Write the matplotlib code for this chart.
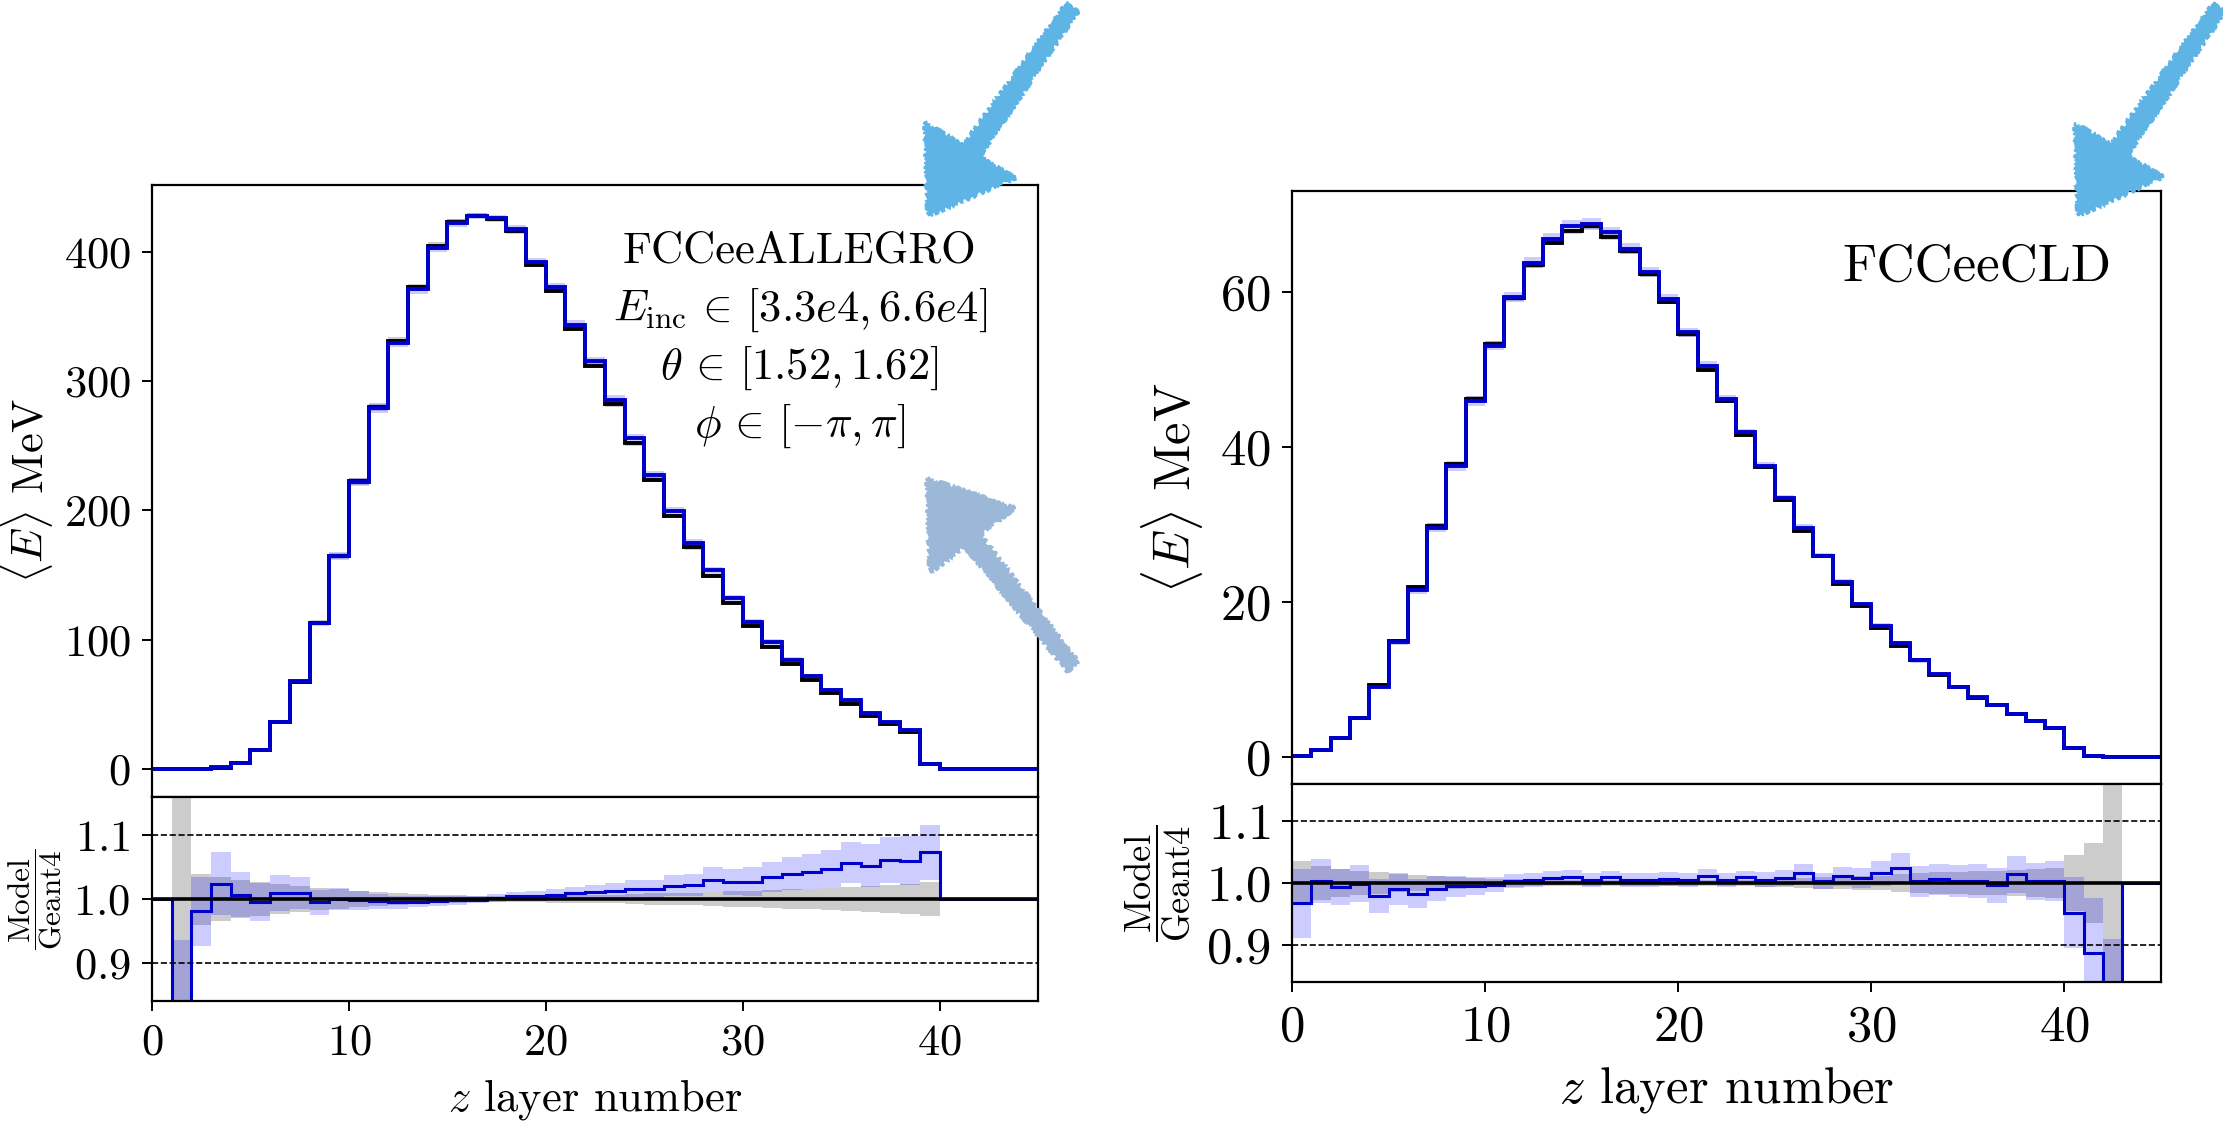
import numpy as np
import matplotlib
matplotlib.use("Agg")
import matplotlib.pyplot as plt
from matplotlib.patches import Polygon

plt.rcParams.update({
    "font.family": "serif",
    "font.serif": ["cmr10"],
    "mathtext.fontset": "cm",
    "axes.formatter.use_mathtext": True,
    "axes.unicode_minus": False,
    "font.size": 32,
    "axes.linewidth": 1.6,
    "xtick.major.size": 7.5,
    "ytick.major.size": 7.5,
    "xtick.major.width": 1.4,
    "ytick.major.width": 1.4,
})

# layer bin edges (45 layers)
edges = np.arange(46)

# ---- FCCeeALLEGRO ----
allegro_g4 = [0.0, 0.12, 0.41, 1.27, 4.97, 15.08, 36.37, 67.59, 113.17, 164.8,
              222.5, 279.8, 331.1, 372.3, 404.2, 422.7, 427.8, 425.0, 415.8, 390.0,
              369.9, 340.4, 311.9, 281.9, 251.8, 223.7, 195.6, 171.4, 149.2, 128.8,
              110.9, 94.8, 81.0, 69.0, 58.5, 50.6, 41.4, 34.6, 28.5, 3.63,
              0.0, 0.0, 0.0, 0.0, 0.0]
allegro_ratio = [1.0, 0.80, 0.981, 1.024, 1.007, 0.995, 1.009, 1.009, 0.995, 1.000,
                 0.998, 0.9965, 0.995, 0.996, 0.997, 0.998, 0.999, 1.002, 1.004, 1.005,
                 1.007, 1.009, 1.011, 1.013, 1.016, 1.016, 1.021, 1.022, 1.030, 1.027,
                 1.027, 1.034, 1.040, 1.043, 1.047, 1.057, 1.052, 1.061, 1.060, 1.073,
                 1.0, 1.0, 1.0, 1.0, 1.0]
allegro_g4_err = [0.0, 0.5, 0.04, 0.035, 0.03, 0.026, 0.023, 0.02, 0.018, 0.015,
                  0.013, 0.011, 0.009, 0.008, 0.007, 0.006, 0.005, 0.005, 0.005, 0.005,
                  0.006, 0.006, 0.007, 0.007, 0.008, 0.009, 0.009, 0.010, 0.011, 0.012,
                  0.013, 0.014, 0.015, 0.016, 0.018, 0.019, 0.021, 0.022, 0.024, 0.027,
                  0.0, 0.0, 0.0, 0.0, 0.0]
allegro_model_err = [0.0, 0.17, 0.055, 0.048, 0.035, 0.03, 0.028, 0.025, 0.02, 0.018,
                     0.015, 0.012, 0.01, 0.009, 0.008, 0.007, 0.006, 0.006, 0.007, 0.008,
                     0.009, 0.01, 0.011, 0.012, 0.013, 0.014, 0.016, 0.017, 0.019, 0.02,
                     0.022, 0.023, 0.025, 0.026, 0.028, 0.03, 0.032, 0.034, 0.036, 0.04,
                     0.0, 0.0, 0.0, 0.0, 0.0]
allegro_text = ["FCCeeALLEGRO",
                r"$E_{\mathrm{inc}} \,\in\, [3.3e4, 6.6e4]$",
                r"$\theta \,\in\, [1.52, 1.62]$",
                r"$\phi \,\in\, [-\pi, \pi]$"]

# ---- FCCeeCLD ----
cld_g4 = [0.176, 0.897, 2.516, 5.005, 9.295, 14.93, 21.97, 29.87, 37.79, 46.23,
          53.26, 59.22, 63.48, 66.37, 67.82, 68.46, 67.10, 65.27, 62.29, 58.69,
          54.53, 49.95, 45.97, 41.53, 37.41, 33.13, 29.13, 25.92, 22.35, 19.54,
          16.63, 14.34, 12.46, 10.64, 9.04, 7.68, 6.73, 5.50, 4.59, 3.73,
          1.23, 0.113, 0.03, 0.0, 0.0]
cld_ratio = [0.967, 1.003, 0.9935, 0.999, 0.979, 0.991, 0.983, 0.991, 0.995, 0.995,
             0.997, 1.003, 1.005, 1.008, 1.010, 1.005, 1.009, 1.005, 1.005, 1.007,
             1.005, 1.011, 1.005, 1.009, 1.005, 1.008, 1.016, 1.003, 1.011, 1.008,
             1.016, 1.025, 1.003, 1.006, 1.003, 1.003, 0.996, 1.014, 1.003, 1.003,
             0.952, 0.887, 0.70, 1.0, 1.0]
cld_g4_err = [0.035, 0.028, 0.023, 0.02, 0.017, 0.015, 0.013, 0.011, 0.009, 0.008,
              0.007, 0.006, 0.005, 0.005, 0.005, 0.005, 0.005, 0.005, 0.005, 0.005,
              0.005, 0.005, 0.005, 0.005, 0.006, 0.007, 0.008, 0.009, 0.010, 0.011,
              0.012, 0.014, 0.016, 0.017, 0.018, 0.019, 0.02, 0.021, 0.022, 0.024,
              0.045, 0.065, 0.5, 0.0, 0.0]
cld_model_err = [0.058, 0.035, 0.03, 0.03, 0.028, 0.026, 0.024, 0.02, 0.017, 0.014,
                 0.012, 0.011, 0.011, 0.011, 0.011, 0.011, 0.011, 0.011, 0.011, 0.011,
                 0.011, 0.011, 0.011, 0.011, 0.012, 0.013, 0.015, 0.013, 0.015, 0.016,
                 0.02, 0.023, 0.025, 0.025, 0.026, 0.027, 0.028, 0.03, 0.03, 0.032,
                 0.06, 0.1, 0.3, 0.0, 0.0]
cld_text = ["FCCeeCLD"]

W, H = 2223, 1124
fig = plt.figure(figsize=(W / 100, H / 100), dpi=100)


def frac_rect(x0, x1, y0, y1):
    """Pixel box (top-left origin) -> figure-fraction rect."""
    return [x0 / W, 1 - y1 / H, (x1 - x0) / W, (y1 - y0) / H]


def draw_panel(box_main, box_ratio, g4, ratio, g4_err, model_err, lines, fs, text_fs,
               frac_fs, text_x, text_y, text_dy, ylab_main, ylab_ratio, xlab_y):
    g4 = np.asarray(g4)
    ratio = np.asarray(ratio)
    g4_err = np.asarray(g4_err)
    model_err = np.asarray(model_err)
    model = g4 * ratio

    ax = fig.add_axes(box_main)
    axr = fig.add_axes(box_ratio, sharex=ax)
    ax.use_sticky_edges = False

    # main: mean energy per layer
    ax.stairs(g4 * (1 + g4_err), edges, baseline=g4 * (1 - g4_err), fill=True,
              color="grey", alpha=0.4, lw=0)
    ax.stairs(model * (1 + model_err), edges, baseline=model * (1 - model_err),
              fill=True, color="blue", alpha=0.2, lw=0)
    ax.stairs(g4, edges, baseline=None, color="black", lw=2.8)
    ax.stairs(model, edges, baseline=None, color="mediumblue", lw=2.8)
    ax.margins(y=0.05)
    ax.set_xlim(0, 45)
    ax.set_ylabel(r"$\langle E\rangle$ MeV", fontsize=fs)
    ax.yaxis.set_label_coords(ylab_main, 0.5)
    ax.tick_params(axis="x", bottom=False, labelbottom=False)
    ax.tick_params(axis="y", pad=8, labelsize=fs)

    for i, s in enumerate(lines):
        ax.text(text_x, text_y - i * text_dy, s, transform=ax.transAxes,
                ha="center", va="baseline", fontsize=text_fs)

    # ratio panel
    axr.stairs(1 + g4_err, edges, baseline=1 - g4_err, fill=True,
               color="grey", alpha=0.4, lw=0)
    axr.stairs(ratio * (1 + model_err), edges, baseline=ratio * (1 - model_err),
               fill=True, color="blue", alpha=0.2, lw=0)
    axr.axhline(1.0, color="black", lw=2.6)
    axr.axhline(1.1, color="black", lw=1.2, ls="--")
    axr.axhline(0.9, color="black", lw=1.2, ls="--")
    axr.stairs(ratio, edges, baseline=None, color="mediumblue", lw=2.2)
    axr.set_ylim(0.84, 1.16)
    axr.set_yticks([0.9, 1.0, 1.1])
    axr.set_xlim(0, 45)
    axr.set_xticks([0, 10, 20, 30, 40])
    axr.set_ylabel(r"$\dfrac{\mathrm{Model}}{\mathrm{Geant4}}$", fontsize=frac_fs)
    axr.yaxis.set_label_coords(ylab_ratio, 0.5)
    axr.set_xlabel(r"$z$ layer number", fontsize=fs)
    axr.xaxis.set_label_coords(0.5, xlab_y)
    axr.tick_params(axis="x", pad=9, labelsize=fs)
    axr.tick_params(axis="y", pad=8, labelsize=fs)
    return ax, axr


draw_panel(frac_rect(152, 1038, 185, 797), frac_rect(152, 1038, 797, 1001),
           allegro_g4, allegro_ratio, allegro_g4_err, allegro_model_err,
           allegro_text, 32, 32, 22.5, 0.731, 0.874, 0.0953, -0.110, -0.099, -0.371)
draw_panel(frac_rect(1292, 2161, 191, 784), frac_rect(1292, 2161, 784, 982),
           cld_g4, cld_ratio, cld_g4_err, cld_model_err,
           cld_text, 36.5, 38, 26.3, 0.788, 0.849, 0.1, -0.100, -0.114, -0.419)


# hand-drawn style arrows (pixel geometry, top-left origin)
def sketch_arrow(tail, base, head_pts, color, w_tail=14, w_base=20):
    t = np.array(tail, float)
    b = np.array(base, float)
    d = b - t
    n = np.array([-d[1], d[0]]) / np.hypot(*d)
    shaft = [t + n * w_tail / 2, b + n * w_base / 2, b - n * w_base / 2, t - n * w_tail / 2]
    for pts in (shaft, head_pts):
        xy = [(p[0] / W, 1 - p[1] / H) for p in pts]
        poly = Polygon(xy, closed=True, transform=fig.transFigure, facecolor=color,
                       edgecolor=color, lw=1.5, zorder=20)
        poly.set_sketch_params(scale=2.0, length=6.0, randomness=12.0)
        fig.patches.append(poly)


sketch_arrow((1072, 8), (972, 150), [(925, 122), (928, 216), (1015, 178)], "#5db4e5")
sketch_arrow((1073, 667), (972, 540), [(927, 478), (930, 573), (1015, 508)], "#9bb8d9")
sketch_arrow((2219, 8), (2119, 150), [(2075, 123), (2078, 216), (2163, 177)], "#5db4e5")

fig.savefig("out.png", dpi=100)
